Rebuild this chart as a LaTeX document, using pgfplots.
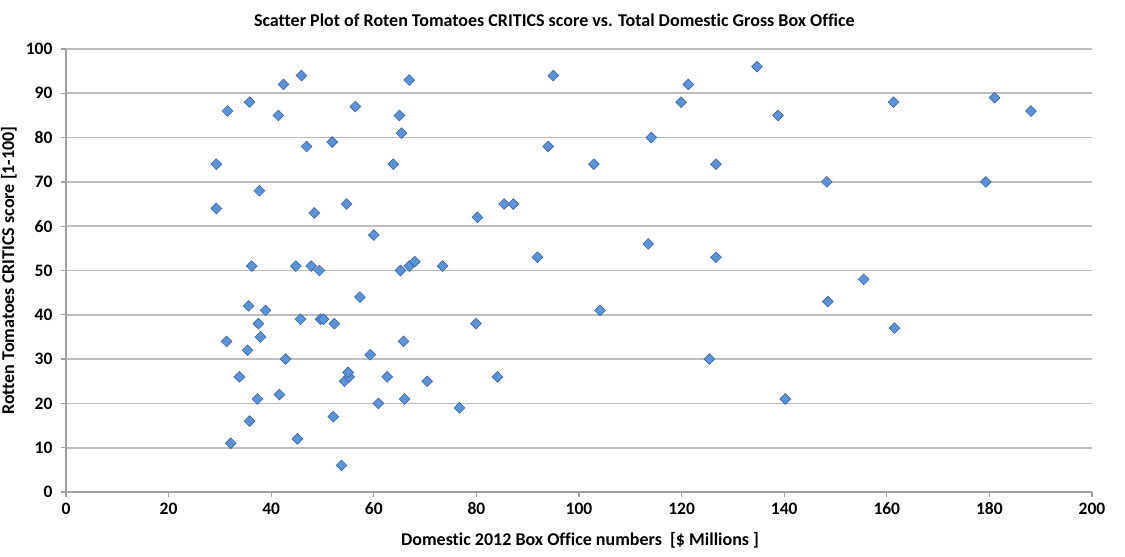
\documentclass[border=0pt]{standalone}
\usepackage{fontspec}
\setmainfont{Carlito}[Ligatures={NoCommon}]
\usepackage{pgfplots}
\pgfplotsset{compat=1.18}
\usepackage{pgfplotstable}
\definecolor{pt}{RGB}{92,146,216}
\definecolor{ptd}{RGB}{58,102,165}
\definecolor{gridc}{RGB}{190,190,190}
\definecolor{axc}{RGB}{160,160,160}
\pgfplotstableread{
x y
29.3 74
29.3 64
31.5 86
31.3 34
32.1 11
33.8 26
35.4 32
35.6 42
35.8 88
35.8 16
36.2 51
37.5 38
37.3 21
37.7 68
37.9 35
38.9 41
41.4 85
41.6 22
42.4 92
42.8 30
44.8 51
45.1 12
45.7 39
45.9 94
46.9 78
47.8 51
48.4 63
49.4 50
49.6 39
50.2 39
51.9 79
52.1 17
52.3 38
53.7 6
54.3 25
54.7 65
55.2 26
55.0 27
56.4 87
57.3 44
59.3 31
60.0 58
60.9 20
62.6 26
63.8 74
65.0 85
65.4 81
65.2 50
65.8 34
66.0 21
66.9 93
66.9 51
68.0 52
70.4 25
73.4 51
76.7 19
79.9 38
80.2 62
84.1 26
85.4 65
87.2 65
91.9 53
94.0 78
95.0 94
102.9 74
104.1 41
113.5 56
114.1 80
119.9 88
121.3 92
125.4 30
126.7 74
126.7 53
134.7 96
138.8 85
140.2 21
148.3 70
148.5 43
155.5 48
161.3 88
161.5 37
179.3 70
181.0 89
188.1 86
}\datatable
\begin{document}
\begin{tikzpicture}
\begin{axis}[
  scale only axis, width=1026pt, height=443pt,
  xmin=0, xmax=200, ymin=0, ymax=100,
  xtick={0,20,...,200}, ytick={0,10,...,100},
  axis lines*=left,
  axis line style={draw=axc, line width=1.3pt},
  ymajorgrids, grid style={draw=gridc, line width=1.6pt},
  tick style={draw=axc, line width=1.3pt},
  tick align=outside, major tick length=5pt,
  ticklabel style={font=\fontsize{17.5}{19}\selectfont\bfseries},
  /pgf/number format/assume math mode=true,
  xticklabel style={yshift=-2pt},
  yticklabel style={xshift=-5pt},
  clip=false,
]
\addplot[only marks, mark=square*, mark size=3.8pt,
  mark options={fill=pt, draw=ptd, line width=0.6pt, rotate=45}]
  table[x=x, y=y] {\datatable};
\node[font=\fontsize{18}{20}\selectfont\bfseries] at (rel axis cs:0.476,1) [yshift=29pt] {Scatter Plot of Roten Tomatoes CRITICS score vs. Total Domestic Gross Box Office};
\node[font=\fontsize{18}{20}\selectfont\bfseries] at (rel axis cs:0.501,0) [yshift=-48pt] {Domestic 2012 Box Office numbers\ \ [\$ Millions ]};
\node[font=\fontsize{18}{20}\selectfont\bfseries, xshift=-57pt, rotate=90] at (rel axis cs:0,0.50) {Rotten Tomatoes CRITICS score [1-100]};
\end{axis}
\pgfresetboundingbox
\path ([shift={(-66pt,-64pt)}]current axis.south west) rectangle ([shift={(33pt,49pt)}]current axis.north east);
\end{tikzpicture}
\end{document}
